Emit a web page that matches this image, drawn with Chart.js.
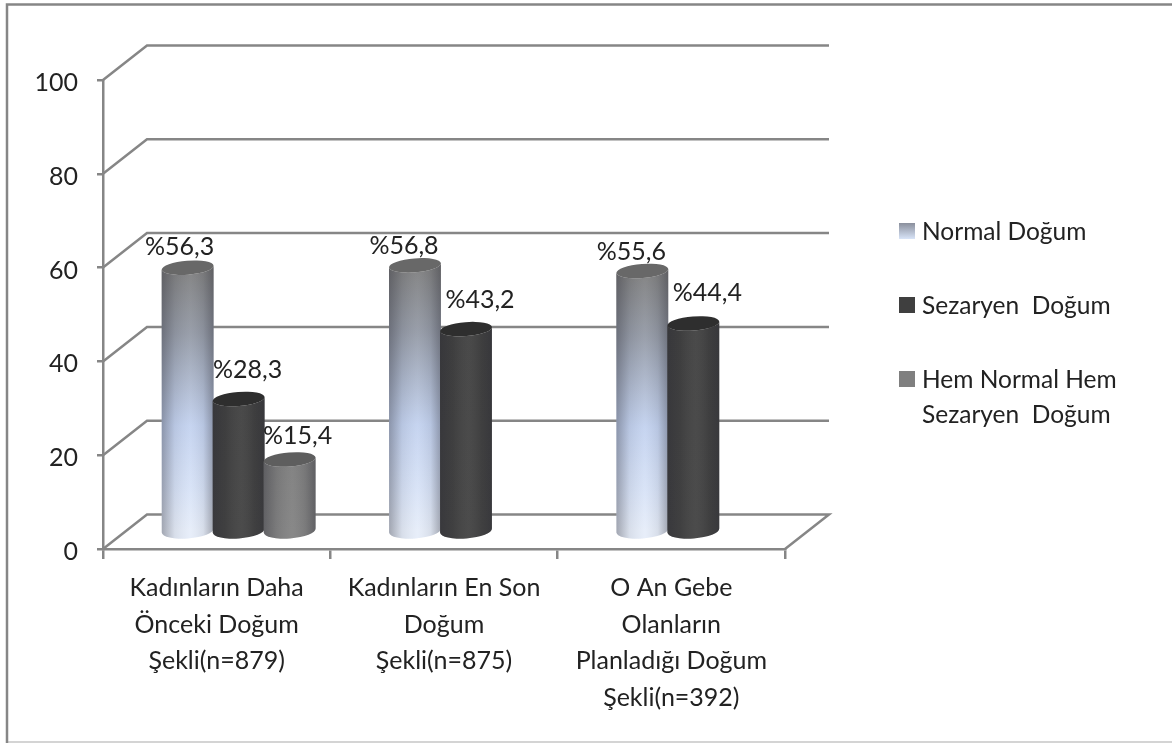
<!DOCTYPE html>
<html lang="tr">
<head>
<meta charset="utf-8">
<title>Doğum Şekli</title>
<script src="https://cdn.jsdelivr.net/npm/chart.js@4"></script>
<style>
  html, body { margin: 0; padding: 0; background: #fff; }
  canvas { display: block; }
</style>
</head>
<body>
<canvas id="dogumChart" width="1172" height="743"></canvas>
<script>
const categories = [
    ["Kadınların Daha", "Önceki Doğum", "Şekli(n=879)"],
    ["Kadınların En Son", "Doğum", "Şekli(n=875)"],
    ["O An Gebe", "Olanların", "Planladığı Doğum", "Şekli(n=392)"]
];
const seriesNames = ["Normal Doğum", "Sezaryen  Doğum", "Hem Normal Hem Sezaryen  Doğum"];
const normalDogum = [56.3, 56.8, 55.6];
const sezaryenDogum = [28.3, 43.2, 44.4];
const hemNormalHemSezaryen = [15.4, null, null];
const yTicks = [0, 20, 40, 60, 80, 100];

// label nudges from the top of each cylinder, per series then per category
const labelNudge = [
    [[-8, -21], [-11, -19], [-11, -19]],
    [[9, -29], [14, -29], [14, -31]],
    [[8, -24]]
];

const FONT = "Lato, 'Open Sans', sans-serif";
const FONT_SIZE = 25;
const LEGEND_SIZE = 24.5;
const TEXT = "#222222";
const GRID = "#868686";
const DEPTH_X = 44;
const DEPTH_Y = 34.5;

const bodyStops = [
    [[0, "#7e7e7e"], [0.25, "#949aa6"], [0.6, "#c3d2ef"], [0.85, "#d8e3f7"], [1, "#e6edf9"]],
    [[0, "#404040"], [1, "#424242"]],
    [[0, "#7d7d7d"], [1, "#828282"]]
];
const capColors = ["#686868", "#2e2e2e", "#5e5e5e"];
const legendSwatch = ["#a9bbdc", "#3f3f3f", "#7f7f7f"];

// back wall, side and floor lines, drawn from the value axis
const wallPlugin = {
    id: "wall",
    beforeDatasetsDraw(chart) {
        const { ctx, scales: { x, y } } = chart;
        ctx.save();
        ctx.strokeStyle = GRID;
        ctx.lineWidth = 2.5;
        yTicks.forEach(v => {
            const py = y.getPixelForValue(v);
            ctx.beginPath();
            ctx.moveTo(x.left, py);
            ctx.lineTo(x.left + DEPTH_X, py - DEPTH_Y);
            ctx.lineTo(x.right + DEPTH_X, py - DEPTH_Y);
            if (v === 0) ctx.lineTo(x.right, py);
            ctx.stroke();
        });
        ctx.restore();
    }
};

function drawCylinder(ctx, el, s) {
    const cx = el.x + DEPTH_X / 2;
    const rx = el.width / 2 + 0.5;
    const ry = 7;
    const tilt = -0.08;
    const top = el.y - DEPTH_Y / 2;
    const bottom = el.base - DEPTH_Y / 2;

    const side = new Path2D();
    side.ellipse(cx, bottom, rx, ry + 1, tilt, 0, Math.PI);
    side.lineTo(cx - rx, top);
    side.ellipse(cx, top, rx, ry, tilt, Math.PI, 0, true);
    side.closePath();

    const vert = ctx.createLinearGradient(0, top, 0, bottom);
    bodyStops[s].forEach(st => vert.addColorStop(st[0], st[1]));
    ctx.fillStyle = vert;
    ctx.fill(side);

    // round the body off with darker edges
    const horiz = ctx.createLinearGradient(cx - rx, 0, cx + rx, 0);
    horiz.addColorStop(0, "rgba(40,40,50,0.36)");
    horiz.addColorStop(0.25, "rgba(40,40,50,0.08)");
    horiz.addColorStop(0.55, "rgba(255,255,255,0.05)");
    horiz.addColorStop(0.8, "rgba(40,40,50,0.08)");
    horiz.addColorStop(1, "rgba(40,40,50,0.36)");
    ctx.fillStyle = horiz;
    ctx.fill(side);

    ctx.beginPath();
    ctx.ellipse(cx, top, rx, ry, tilt, 0, Math.PI * 2);
    ctx.fillStyle = capColors[s];
    ctx.fill();
}

const cylinderPlugin = {
    id: "cylinders",
    beforeDatasetDraw() {
        return false;
    },
    afterDatasetsDraw(chart) {
        const { ctx } = chart;
        ctx.save();
        chart.data.datasets.forEach((ds, s) => {
            chart.getDatasetMeta(s).data.forEach((el, i) => {
                if (ds.data[i] === null) return;
                drawCylinder(ctx, el, s);
            });
        });
        ctx.font = FONT_SIZE + "px " + FONT;
        ctx.fillStyle = TEXT;
        ctx.textAlign = "center";
        ctx.textBaseline = "middle";
        chart.data.datasets.forEach((ds, s) => {
            chart.getDatasetMeta(s).data.forEach((el, i) => {
                if (ds.data[i] === null) return;
                const txt = "%" + ds.data[i].toFixed(1).replace(".", ",");
                const n = labelNudge[s][i];
                ctx.fillText(txt, el.x + DEPTH_X / 2 + n[0], el.y - DEPTH_Y / 2 + n[1]);
            });
        });
        ctx.restore();
    }
};

// legend has a wrapped entry, so it is laid out by hand; the outer frame goes here too
const legendPlugin = {
    id: "sideLegend",
    afterDraw(chart) {
        const { ctx } = chart;
        ctx.save();
        ctx.strokeStyle = "#c6c6c6";
        ctx.lineWidth = 1.5;
        ctx.beginPath();
        ctx.moveTo(7, 742);
        ctx.lineTo(1172, 742);
        ctx.stroke();
        ctx.strokeStyle = GRID;
        ctx.lineWidth = 2.5;
        ctx.beginPath();
        ctx.moveTo(7, 743);
        ctx.lineTo(7, 4.5);
        ctx.lineTo(1172, 4.5);
        ctx.stroke();

        ctx.font = LEGEND_SIZE + "px " + FONT;
        ctx.textBaseline = "middle";
        const rows = [[seriesNames[0]], [seriesNames[1]], ["Hem Normal Hem", "Sezaryen  Doğum"]];
        const rowY = [231, 305, 379];
        rows.forEach((lines, r) => {
            ctx.fillStyle = r === 0 ? (() => {
                const g = ctx.createLinearGradient(0, rowY[r] - 8, 0, rowY[r] + 8);
                g.addColorStop(0, "#8a8f9c");
                g.addColorStop(1, "#d8e4f8");
                return g;
            })() : legendSwatch[r];
            ctx.fillRect(899, rowY[r] - 8, 16, 16);
            ctx.fillStyle = TEXT;
            lines.forEach((line, k) => ctx.fillText(line, 922, rowY[r] + 1 + k * 35));
        });
        ctx.restore();
    }
};

const ctx = document.getElementById("dogumChart").getContext("2d");

new Chart(ctx, {
    type: "bar",
    data: {
        labels: categories,
        datasets: [
            { label: seriesNames[0], data: normalDogum, backgroundColor: legendSwatch[0] },
            { label: seriesNames[1], data: sezaryenDogum, backgroundColor: legendSwatch[1] },
            { label: seriesNames[2], data: hemNormalHemSezaryen, backgroundColor: legendSwatch[2] }
        ]
    },
    options: {
        responsive: false,
        animation: false,
        layout: { padding: { top: 80, right: 387, left: 0, bottom: 0 } },
        datasets: { bar: { categoryPercentage: 0.673, barPercentage: 1 } },
        plugins: {
            legend: { display: false },
            tooltip: { enabled: false }
        },
        scales: {
            x: {
                afterFit(scale) { scale.height = 194; },
                grid: { drawOnChartArea: false, color: GRID, lineWidth: 2.5, tickLength: 10, offset: true },
                border: { display: true, color: GRID, width: 2.5 },
                ticks: {
                    autoSkip: false,
                    maxRotation: 0,
                    padding: 11,
                    color: TEXT,
                    font: { family: FONT, size: FONT_SIZE, lineHeight: 1.46 }
                }
            },
            y: {
                min: 0,
                max: 100,
                afterFit(scale) { scale.width = 103; },
                afterBuildTicks(scale) { scale.ticks = yTicks.map(v => ({ value: v })); },
                grid: { drawOnChartArea: false, color: GRID, lineWidth: 2.5, tickLength: 6 },
                border: { display: true, color: GRID, width: 2.5 },
                ticks: {
                    padding: 19,
                    labelOffset: 3,
                    color: TEXT,
                    font: { family: FONT, size: FONT_SIZE }
                }
            }
        }
    },
    plugins: [wallPlugin, cylinderPlugin, legendPlugin]
});
</script>
</body>
</html>
